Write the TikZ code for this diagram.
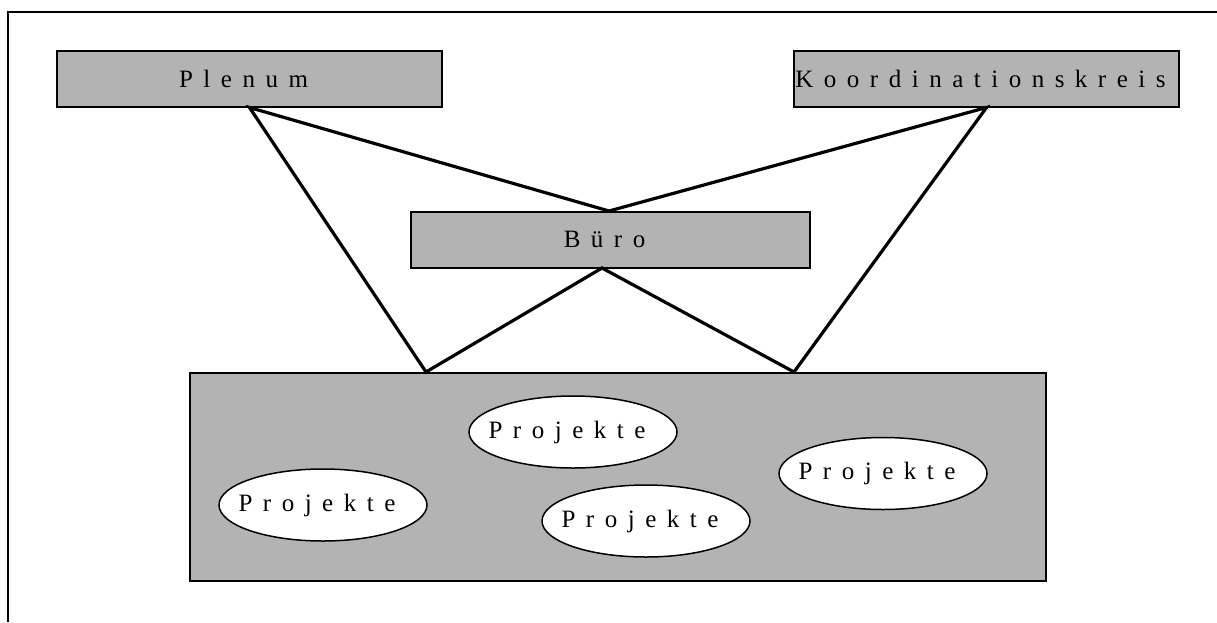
\documentclass[tikz,border=0pt]{standalone}
\usepackage{fontspec}
\setmainfont{Liberation Serif}
\usetikzlibrary{shapes.geometric}

% letter-spaced text: a fixed kern after every letter (the trailing one
% is kept, which sets the word slightly left of its box centre)
\newdimen\sgap
\sgap=10.5pt
\def\spacedloop#1{\ifx#1\relax\else#1\kern\sgap\relax\expandafter\spacedloop\fi}
\newcommand\spacedtext[1]{\spacedloop#1\relax\kern1.5pt}
% zero-width version, so the ellipse keeps its own size
\newcommand\flattext[1]{\makebox[0pt][c]{\spacedtext{#1}}}

\definecolor{boxgray}{RGB}{179,179,179}

\tikzset{
  unit/.style={draw=black, line width=2pt, fill=boxgray, rectangle, inner sep=0pt,
               font=\fontsize{25}{29}\selectfont},
  projekt/.style={draw=black, line width=1.5pt, fill=white, ellipse, inner sep=0pt,
                  minimum width=208pt, minimum height=72pt,
                  font=\fontsize{25}{29}\selectfont},
  link/.style={draw=black, line width=3.2pt, line join=miter},
  frameline/.style={draw=black, line width=2.5pt}
}

\begin{document}
\begin{tikzpicture}[x=1pt, y=-1pt]
  \useasboundingbox (0,0) rectangle (1217,622);

  % outer frame (top and left edges only)
  \coordinate (ftr) at (1217,12);
  \coordinate (ftl) at (8,12);
  \coordinate (fbl) at (8,622);
  \draw[frameline] (ftr) -- (ftl) -- (fbl);

  % upper units
  \node[unit, minimum width=385pt, minimum height=56pt] (plenum) at (249.5,78.5) {\spacedtext{Plenum}};
  \node[unit, minimum width=385pt, minimum height=56pt] (koord) at (986.5,78.5) {\spacedtext{Koordinationskreis}};
  \node[unit, minimum width=399pt, minimum height=56pt] (buero) at (610.5,239.5) {\spacedtext{Büro}};

  % project area
  \node[unit, minimum width=856pt, minimum height=208pt] (area) at (618,477) {};
  \coordinate (aleft) at (426,372);
  \coordinate (aright) at (794,372);
  \coordinate (bbottom) at (602,268);
  \coordinate (btop) at (609,211);

  \node[projekt] (p1) at (323,505) {\flattext{Projekte}};
  \node[projekt] (p2) at (573,432) {\flattext{Projekte}};
  \node[projekt] (p3) at (646,521) {\flattext{Projekte}};
  \node[projekt] (p4) at (883,473.5) {\flattext{Projekte}};

  % connections
  \draw[link] (aleft) -- (plenum.south) -- (btop) -- (koord.south) -- (aright) -- (bbottom) -- cycle;
\end{tikzpicture}
\end{document}
